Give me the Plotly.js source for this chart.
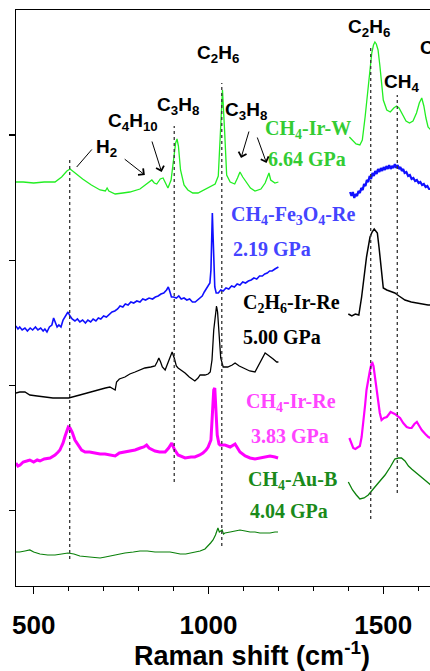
<!DOCTYPE html>
<html>
<head>
<meta charset="utf-8">
<script src="https://cdn.plot.ly/plotly-3.0.1.min.js"></script>
<style>
html, body { margin: 0; padding: 0; overflow: hidden; background: #fff; }
#chart { width: 488px; height: 671px; }
</style>
</head>
<body>
<div id="chart"></div>
<script>
// ---- Spectra (Raman shift in cm^-1, intensity in arbitrary offset units) ----
// CH4-Ir-W, 6.64 GPa
const irW_lowX = [449,470,500,530,561,580,595,604,615,640,665,690,705,710,715,733,755,775,804,825,838,845,852,862,870,877,884,893,900,906,910,914,920,930,941,955,970,985,1000,1019,1028,1034,1040,1046,1052,1062,1075,1083,1090,1098,1107,1120,1133,1150,1162,1170,1173,1178,1185,1190,1200];
const irW_lowY = [404,404,403,404,404,409,415,417,414,407,401,396,395,398,395,392,393,394,397,402,406,403,402,407,408,403,398,406,426,443,447,440,416,401,396,393,393,396,399,402,410,456,496,456,411,404,402,408,414,409,404,398,395,397,403,412,413,406,404,403,404];
const irW_highX = [1403,1412,1422,1433,1440,1448,1457,1467,1472,1476,1480,1485,1490,1495,1500,1510,1520,1530,1538,1545,1555,1565,1575,1585,1595,1603,1610,1616,1622,1628,1636,1645];
const irW_highY = [449,446,442,441,446,469,503,533,541,544,542,536,521,503,486,476,474,478,480,478,472,465,463,465,473,483,488,480,468,459,456,455];

// CH4-Fe3O4-Re, 2.19 GPa
const fe_lowX = [449,455,460,467,475,482,490,497,505,512,520,527,532,538,545,552,557,562,567,572,578,584,590,598,604,610,618,625,632,640,648,655,663,670,678,685,692,700,708,716,724,732,740,747,755,762,770,778,786,795,804,812,820,830,840,848,856,864,872,880,885,889,894,900,908,915,922,930,938,946,954,962,968,975,982,988,995,1000,1004,1007,1009,1011,1013,1015,1018,1022,1028,1035,1042,1050,1058,1066,1074,1082,1090,1098,1106,1114,1122,1130,1138,1146,1154,1161,1168,1175,1182,1190,1200];
const fe_lowY = [260,257,259,256,258,255,258,256,259,256,258,255,257,254,259,261,268,264,259,261,259,266,270,274,270,267,265,267,264,266,263,266,264,267,265,268,267,270,269,272,274,275,277,280,279,282,281,284,283,285,284,287,286,288,287,289,290,292,293,296,299,295,289,289,288,290,287,288,286,287,284,284,286,288,290,294,298,300,303,316,346,373,351,316,299,293,293,296,295,298,297,300,299,302,301,304,303,305,306,308,307,310,310,312,313,315,315,317,319];
const fe_highX = [1405,1409,1413,1417,1421,1425,1429,1433,1437,1441,1445,1449,1453,1457,1461,1465,1469,1473,1477,1481,1485,1489,1493,1497,1501,1505,1509,1513,1517,1521,1525,1529,1533,1537,1541,1545,1549,1553,1557,1561,1566,1571,1576,1581,1586,1591,1596,1601,1606,1611,1616,1621,1626,1631,1638,1645];
const fe_highY = [394,390,394,388,392,390,395,393,398,396,402,400,406,404,410,407,413,410,415,412,417,414,418,415,419,416,420,417,421,417,420,418,422,418,421,417,419,415,417,413,414,410,411,407,408,405,406,403,404,401,402,399,400,397,397,395];

// C2H6-Ir-Re, 5.00 GPa
const c2_lowX = [449,460,475,489,510,532,555,575,600,632,661,690,705,718,728,733,737,745,761,775,790,805,818,835,847,853,858,863,868,876,885,892,896,902,908,913,925,933,945,955,961,970,976,990,999,1005,1010,1015,1020,1023,1026,1030,1035,1042,1055,1068,1076,1088,1100,1118,1133,1147,1155,1162,1170,1176,1185,1195,1200];
const c2_lowY = [193,194,194,191,190,189,188,188,188,191,194,197,198,199,197,196,204,207,209,212,214,216,218,219,220,224,228,224,219,216,224,232,234,228,220,218,215,213,209,206,205,208,211,211,212,214,226,256,276,280,274,251,228,219,219,221,223,220,218,215,214,223,228,233,231,229,227,224,224];
const c2_highX = [1400,1410,1420,1430,1438,1445,1452,1462,1468,1474,1480,1483,1488,1492,1496,1500,1510,1520,1533,1545,1562,1580,1600,1615,1628,1645];
const c2_highY = [272,270,272,271,289,311,329,349,354,357,355,353,338,323,308,298,296,295,293,290,286,284,283,282,281,281];

// CH4-Ir-Re, 3.83 GPa
const irRe_lowX = [449,455,461,470,480,489,500,510,518,530,547,561,570,575,580,584,590,595,599,604,610,618,627,637,647,660,675,690,704,720,733,745,761,775,790,805,815,823,830,847,860,876,886,895,902,913,925,933,950,961,975,984,993,999,1007,1011,1013,1015,1018,1021,1025,1030,1033,1047,1062,1076,1083,1090,1105,1119,1133,1147,1160,1176,1190,1199];
const irRe_lowY = [123,120,121,124,125,126,124,126,125,127,128,131,134,136,140,143,150,156,159,158,154,146,141,136,134,134,133,132,132,131,130,133,134,135,136,138,139,141,138,135,134,134,138,143,137,131,129,128,129,129,131,133,136,139,146,166,186,196,198,176,151,142,141,141,139,142,138,134,130,128,127,128,129,130,129,128];
const irRe_highX = [1403,1408,1414,1420,1427,1433,1438,1443,1448,1452,1457,1462,1466,1469,1472,1476,1481,1486,1490,1495,1502,1510,1516,1521,1527,1533,1540,1548,1557,1567,1575,1581,1589,1596,1603,1610,1620,1629,1645];
const irRe_highY = [148,143,138,137,139,140,149,163,181,196,208,216,222,223,220,209,196,183,173,166,168,169,172,174,173,172,170,168,163,159,158,158,162,164,160,156,152,149,146];

// CH4-Au-B, 4.04 GPa
const au_lowX = [449,460,475,489,500,518,540,561,580,598,615,632,660,690,705,718,740,761,785,804,825,847,870,890,905,919,935,947,960,976,990,999,1006,1013,1020,1027,1031,1035,1039,1043,1047,1062,1075,1090,1105,1119,1133,1147,1160,1176,1190,1199];
const au_lowY = [34,34,35,36,34,32,31,31,32,33,32,30,29,28,29,30,31,33,34,35,35,34,34,34,33,32,32,33,34,35,37,40,43,46,51,58,54,55,56,52,53,54,55,56,55,54,54,53,53,53,54,54];
const au_highX = [1400,1412,1423,1433,1445,1457,1476,1490,1505,1520,1533,1543,1552,1562,1572,1581,1595,1610,1629,1645];
const au_highY = [104,96,91,87,88,91,99,105,111,119,127,128,128,125,120,117,113,109,103,98];

// ---- Dotted reference lines (peak positions) ----
const refX = [603, 902, 1038, 1464, 1540];
const refTop = [426, 460, 503, 539, 491];
const refBottom = [27, 104, 40, 67, 93];

// ---- Text labels ----
const speciesText = ['C<sub>2</sub>H<sub>6</sub>','C<sub>4</sub>H<sub>10</sub>','C<sub>3</sub>H<sub>8</sub>','H<sub>2</sub>','C<sub>3</sub>H<sub>8</sub>','C<sub>2</sub>H<sub>6</sub>','CH<sub>4</sub>','C'];
const speciesX = [1026, 784, 914, 707, 1107, 1459, 1551, 1599];
const speciesY = [532, 464, 480, 438, 475, 558, 503, 539];

function bigSub(d) { return '<sub style="font-size:18px">' + d + '</sub>'; }
const sampleText = ['CH'+bigSub(4)+'-Ir-W','6.64 GPa','CH'+bigSub(4)+'-Fe'+bigSub(3)+'O'+bigSub(4)+'-Re','2.19 GPa','C'+bigSub(2)+'H'+bigSub(6)+'-Ir-Re','5.00 GPa','CH'+bigSub(4)+'-Ir-Re','3.83 GPa','CH'+bigSub(4)+'-Au-B','4.04 GPa'];
const sampleX = [1285,1283,1242,1182,1237,1209,1237,1232,1239,1229];
const sampleY = [457,427,371,337,283,249,184,150,106,75];
const sampleColor = ['#33cc33','#33cc33','#4444ff','#4444ff','#000000','#000000','#ff44ff','#ff44ff','#1a8a1a','#1a8a1a'];

// arrows: tail -> head
const arrowTailX = [670, 756, 837, 1117, 1138];
const arrowTailY = [438, 428, 446, 456, 450];
const arrowHeadX = [623, 818, 866, 1093, 1166];
const arrowHeadY = [419, 411, 414, 428, 423];
const arrowStyle = [0, 4, 4, 4, 4];

// ---- Build traces ----
function seg(x, y, color, width) {
  return {x: x, y: y, type: 'scatter', mode: 'lines',
          line: {color: color, width: width}, hoverinfo: 'skip', showlegend: false};
}
const traces = [
  seg(irW_lowX, irW_lowY, '#22ee22', 1.3), seg(irW_highX, irW_highY, '#22ee22', 1.3),
  seg(fe_lowX, fe_lowY, '#1010ff', 1.6), seg(fe_highX, fe_highY, '#1010ff', 2.2),
  seg(c2_lowX, c2_lowY, '#000000', 1.3), seg(c2_highX, c2_highY, '#000000', 1.5),
  seg(irRe_lowX, irRe_lowY, '#ff00ff', 3), seg(irRe_highX, irRe_highY, '#ff00ff', 2.2),
  seg(au_lowX, au_lowY, '#0a800a', 1.2), seg(au_highX, au_highY, '#0a800a', 1.3)
];

const shapes = refX.map((x, i) => ({
  type: 'line', xref: 'x', yref: 'y', x0: x, x1: x, y0: refBottom[i], y1: refTop[i],
  line: {color: '#333', width: 1.3, dash: 'dot'}
}));

const annotations = [];
speciesText.forEach((t, i) => annotations.push({
  x: speciesX[i], y: speciesY[i], xref: 'x', yref: 'y', text: t, showarrow: false,
  xanchor: i === speciesText.length - 1 ? 'left' : 'center', yanchor: 'middle',
  font: {family: 'Liberation Sans, Arial, sans-serif', size: 19, color: '#000', weight: 'bold'}
}));
sampleText.forEach((t, i) => annotations.push({
  x: sampleX[i], y: sampleY[i], xref: 'x', yref: 'y', text: t, showarrow: false,
  xanchor: 'center', yanchor: 'middle',
  font: {family: 'Liberation Serif, Times New Roman, serif', size: 20, color: sampleColor[i], weight: 'bold'}
}));
arrowTailX.forEach((tx, i) => annotations.push({
  x: arrowHeadX[i], y: arrowHeadY[i], ax: tx, ay: arrowTailY[i], axref: 'x', ayref: 'y',
  xref: 'x', yref: 'y', text: '', showarrow: true, arrowhead: arrowStyle[i],
  arrowsize: 1.6, arrowwidth: 1, arrowcolor: '#000', standoff: 0, startstandoff: 0
}));

const layout = {
  width: 488, height: 671,
  margin: {l: 16, r: 0, t: 10, b: 85},
  paper_bgcolor: '#fff', plot_bgcolor: '#fff',
  showlegend: false,
  xaxis: {
    range: [449.4, 1799.5], showline: true, linecolor: '#000', linewidth: 1.3, mirror: true,
    ticks: 'outside', tick0: 0, dtick: 500, ticklen: 7, tickwidth: 1.3, tickcolor: '#000',
    ticklabelstandoff: 8,
    tickfont: {family: 'Liberation Sans, Arial, sans-serif', size: 26, color: '#000', weight: 'bold'},
    minor: {dtick: 100, tick0: 0, ticks: 'outside', ticklen: 4, tickwidth: 1.2, tickcolor: '#000', showgrid: false},
    showgrid: false, zeroline: false,
    title: {text: 'Raman shift (cm<sup>-1</sup>)', standoff: 10,
            font: {family: 'Liberation Sans, Arial, sans-serif', size: 27, color: '#000', weight: 'bold'}}
  },
  yaxis: {
    range: [0, 576], showline: true, linecolor: '#000', linewidth: 1.3,
    ticks: 'outside', tick0: 75.3, dtick: 125.2, ticklen: 6, tickwidth: 1.3, tickcolor: '#000',
    showticklabels: false, showgrid: false, zeroline: false
  },
  shapes: shapes,
  annotations: annotations
};

Plotly.newPlot('chart', traces, layout, {staticPlot: true, displayModeBar: false});
</script>
</body>
</html>
